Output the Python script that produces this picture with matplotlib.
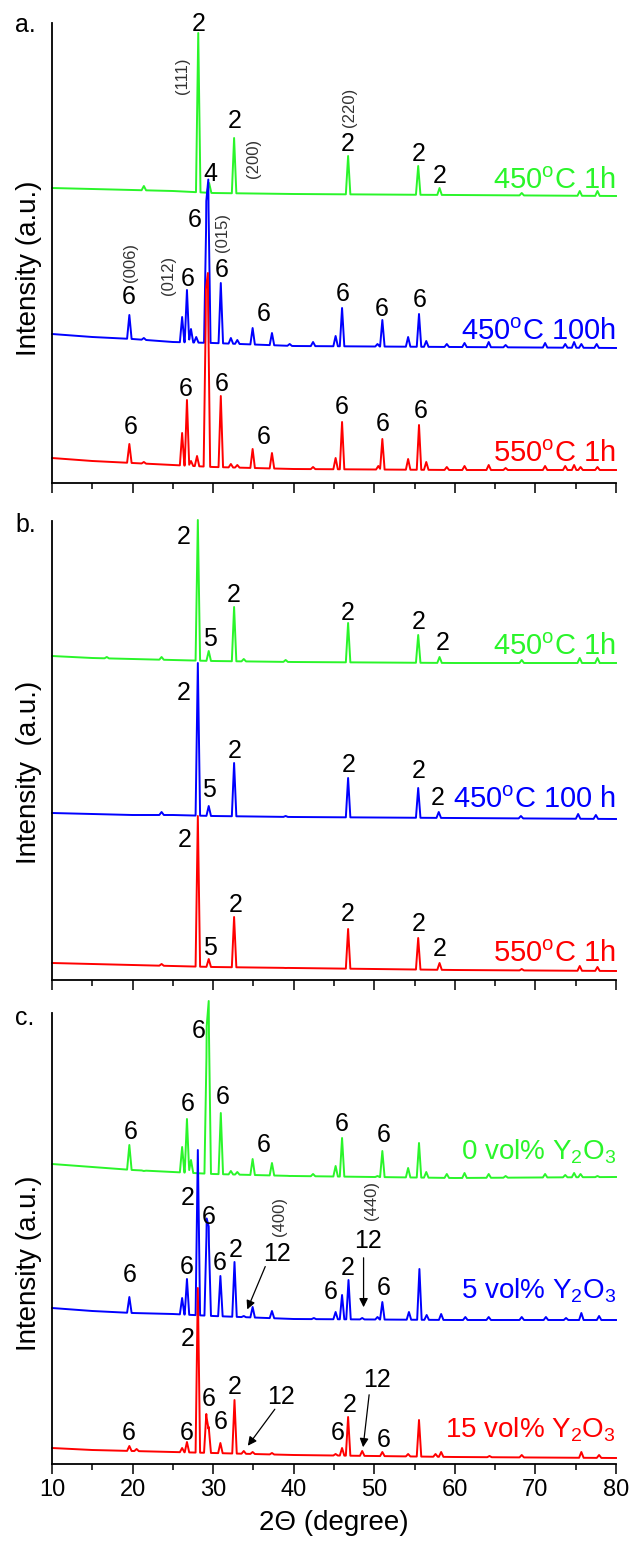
import numpy as np
import matplotlib.pyplot as plt

plt.rcParams['font.family'] = ['Liberation Sans', 'DejaVu Sans']
plt.rcParams['mathtext.fontset'] = 'custom'
plt.rcParams['mathtext.rm'] = 'Liberation Sans'

green = '#2af52a'
blue = '#0000ff'
red = '#ff0000'
hkl_col = '#333333'

# baseline knots (2theta) shared by every trace; intensities are in pixels above each panel bottom
base_x = [10, 15, 20, 25, 30, 40, 60, 80]

# ---- panel a ----
a_green_base = [295, 294, 293, 292, 290, 289, 288, 287]
a_green_pos = [21.4, 28.15, 29.5, 32.6, 46.75, 55.45, 58.1, 68.3, 75.5, 77.7]
a_green_h = [297, 450, 300, 345, 327, 317, 295, 290, 292, 292]

a_blue_base = [149, 146, 144, 141, 140, 137, 136, 135]
a_blue_pos = [19.6, 21.4, 26.15, 26.75, 27.25, 27.9, 29.15, 29.4, 30.95, 32.2, 33.0, 34.9, 37.3, 39.5,
              42.4, 45.2, 46.0, 50.4, 51.0, 54.2, 55.55, 56.45, 59.0, 61.2, 64.2, 66.3, 71.2, 73.7,
              74.8, 75.7, 77.6]
a_blue_h = [168, 145, 166, 193, 154, 146, 266, 290, 200, 145, 143, 155, 150, 139,
            141, 147, 175, 139, 163, 146, 169, 142, 139, 140, 141, 138, 140, 139,
            141, 139, 139]

a_red_base = [25, 22, 20, 18, 16, 14, 13, 13]
a_red_pos = [19.6, 21.4, 26.15, 26.75, 27.25, 28.0, 29.1, 29.35, 30.95, 32.2, 33.0, 34.9, 37.3,
             42.4, 45.2, 46.0, 50.5, 51.0, 54.2, 55.55, 56.45, 59.0, 61.2, 64.2, 66.3, 71.2,
             73.7, 74.8, 75.6, 77.7]
a_red_h = [39, 21, 50, 83, 22, 27, 175, 193, 87, 19, 18, 34, 30,
           16, 25, 61, 17, 44, 24, 58, 21, 16, 17, 18, 15, 17,
           17, 18, 16, 16]

a_names = ['450$^\\mathrm{o}$C 1h', '450$^\\mathrm{o}$C 100h', '550$^\\mathrm{o}$C 1h']
a_name_y = [294, 143, 21]
a_nums = [('2', 28.15, 459), ('4', 29.7, 309), ('2', 32.7, 362), ('2', 46.75, 339),
          ('2', 55.45, 329), ('2', 58.1, 307),
          ('6', 19.5, 186), ('6', 26.8, 204), ('6', 27.7, 263), ('6', 31.1, 213),
          ('6', 36.25, 169), ('6', 46.05, 189), ('6', 50.9, 174), ('6', 55.6, 183),
          ('6', 19.75, 56), ('6', 26.55, 94), ('6', 31.1, 99), ('6', 36.25, 46),
          ('6', 46.0, 76), ('6', 51.1, 59), ('6', 55.8, 72)]
a_hkl = [('(111)', 26.15, 407), ('(200)', 34.95, 325), ('(220)', 46.9, 376),
         ('(006)', 19.8, 220), ('(012)', 24.4, 208), ('(015)', 31.15, 250)]

# ---- panel b ----
b_green_base = [324, 322, 321, 320, 319, 318, 317, 317]
b_green_pos = [16.8, 23.6, 28.1, 29.45, 32.6, 33.8, 39.0, 46.75, 55.45, 58.1, 68.3, 75.5, 77.7]
b_green_h = [323, 323, 460, 329, 373, 321, 320, 357, 345, 323, 320, 322, 322]

b_blue_base = [167, 166, 165, 165, 164, 163, 162, 161]
b_blue_pos = [23.6, 28.1, 29.45, 32.6, 39.0, 46.75, 55.45, 58.0, 68.2, 75.3, 77.5]
b_blue_h = [168, 317, 174, 217, 164, 202, 192, 168, 164, 166, 165]

b_red_base = [17, 16, 15, 14, 13, 12, 10, 9]
b_red_pos = [23.6, 28.1, 29.45, 32.6, 39.0, 46.75, 55.45, 58.1, 68.3, 75.5, 77.7]
b_red_h = [16, 164, 21, 63, 12, 51, 42, 17, 11, 14, 13]

b_names = ['450$^\\mathrm{o}$C 1h', '450$^\\mathrm{o}$C 100 h', '550$^\\mathrm{o}$C 1h']
b_name_y = [325, 172, 18]
b_nums = [('2', 26.4, 443), ('5', 29.66, 341), ('2', 32.6, 385), ('2', 46.76, 367),
          ('2', 55.56, 358), ('2', 58.48, 337),
          ('2', 26.4, 287), ('5', 29.46, 190), ('2', 32.73, 229), ('2', 46.8, 215),
          ('2', 55.56, 209), ('2', 57.85, 182),
          ('2', 26.44, 140), ('5', 29.56, 32), ('2', 32.83, 75), ('2', 46.76, 66),
          ('2', 55.56, 56), ('2', 58.1, 31)]

# ---- panel c ----
c_green_base = [300, 297, 294, 292, 290, 288, 286, 287]
c_green_pos = [19.6, 21.4, 26.15, 26.75, 27.25, 29.2, 29.45, 30.95, 32.2, 33.0, 34.9, 37.3, 39.5,
               42.4, 45.2, 46.0, 50.4, 51.0, 54.2, 55.55, 56.45, 59.0, 61.2, 64.2, 66.3, 71.2,
               73.7, 74.8, 75.6, 77.7]
c_green_h = [319, 293, 317, 345, 304, 421, 449, 351, 293, 292, 305, 301, 288,
             290, 298, 326, 288, 313, 296, 321, 292, 290, 291, 290, 288, 290,
             289, 291, 290, 288]

c_blue_base = [156, 153, 151, 150, 148, 145, 144, 144]
c_blue_pos = [19.6, 26.15, 26.75, 28.1, 29.2, 29.45, 30.9, 32.65, 33.8, 34.9, 37.3, 42.5, 45.2,
              46.0, 46.8, 48.5, 50.4, 51.0, 54.3, 55.6, 56.5, 58.3, 61.3, 64.2, 68.3, 71.3,
              73.8, 75.7, 77.9]
c_blue_h = [167, 166, 185, 314, 237, 228, 188, 202, 148, 157, 153, 146, 152,
            169, 184, 146, 147, 162, 152, 195, 149, 150, 147, 147, 147, 147,
            146, 151, 148]

c_red_base = [16, 14, 13, 12, 11, 9, 7, 6]
c_red_pos = [19.6, 20.5, 26.15, 26.75, 28.1, 29.15, 29.45, 30.9, 32.65, 33.8, 34.9, 37.3, 45.2,
             46.0, 46.75, 48.5, 51.0, 54.2, 55.55, 57.6, 58.3, 64.3, 68.3, 75.7, 77.9]
c_red_h = [18, 15, 16, 22, 176, 50, 37, 21, 64, 13, 12, 11, 10,
           16, 47, 13, 12, 10, 44, 10, 12, 8, 9, 12, 9]

c_names = ['0 vol% Y$_\\mathrm{2}$O$_\\mathrm{3}$', '5 vol% Y$_\\mathrm{2}$O$_\\mathrm{3}$',
           '15 vol% Y$_\\mathrm{2}$O$_\\mathrm{3}$']
c_name_y = [305, 166, 27]
c_nums = [('6', 19.76, 332), ('6', 26.8, 360), ('6', 28.15, 433), ('6', 31.17, 367),
          ('6', 36.25, 319), ('6', 46.0, 340), ('6', 51.13, 329),
          ('6', 19.6, 189), ('6', 26.7, 197), ('2', 26.8, 266), ('6', 29.45, 247),
          ('6', 30.87, 201), ('2', 32.83, 214), ('12', 37.96, 210), ('6', 44.65, 172),
          ('2', 46.66, 196), ('12', 49.17, 223), ('6', 51.18, 176),
          ('6', 19.5, 31), ('6', 26.7, 31), ('2', 26.8, 125), ('6', 29.46, 65),
          ('6', 30.97, 42), ('2', 32.73, 77), ('12', 38.36, 67), ('6', 45.4, 31),
          ('2', 47.0, 59), ('12', 50.3, 84), ('6', 51.18, 24)]
c_hkl = [('(400)', 38.26, 247), ('(440)', 49.68, 264)]
# arrows: (start x, start y, end x, end y)
c_arrows = [(36.6, 200, 34.1, 152), (48.67, 209, 48.67, 154),
            (37.86, 57, 34.1, 16), (49.4, 72, 48.57, 14)]


def trace(bys, pos, hgt, hw=0.28):
    pos = np.array(pos, dtype=float)
    xs = np.unique(np.concatenate([base_x, pos, pos - hw, pos + hw]))
    ys = np.interp(xs, base_x, bys)
    for p, h in zip(pos, hgt):
        b = np.interp(p, base_x, bys)
        ys = ys + np.clip(1 - np.abs(xs - p) / hw, 0, None) * (h - b)
    return xs, ys


fig = plt.figure(figsize=(6.36, 15.5), dpi=100)
W, H = 636.0, 1550.0
boxes = [(483, 460), (980, 459), (1464, 451)]
axes = []
for bot, hh in boxes:
    ax = fig.add_axes([52 / W, (H - bot) / H, 564 / W, hh / H])
    ax.set_xlim(10, 80)
    ax.set_ylim(0, hh)
    ax.spines['top'].set_visible(False)
    ax.spines['right'].set_visible(False)
    ax.spines['left'].set_linewidth(1.3)
    ax.spines['bottom'].set_linewidth(1.3)
    ax.set_yticks([])
    ax.set_xticks(np.arange(10, 81, 10))
    ax.set_xticks(np.arange(15, 80, 10), minor=True)
    ax.tick_params(axis='x', which='major', direction='out', length=7.5, width=1.1, labelsize=17)
    ax.tick_params(axis='x', which='minor', direction='out', length=4, width=1.1)
    axes.append(ax)
ax_a, ax_b, ax_c = axes
ax_a.tick_params(labelbottom=False)
ax_b.tick_params(labelbottom=False)

panels = [
    (ax_a, [(a_green_base, a_green_pos, a_green_h), (a_blue_base, a_blue_pos, a_blue_h),
            (a_red_base, a_red_pos, a_red_h)], a_names, a_name_y, a_nums, a_hkl, 21),
    (ax_b, [(b_green_base, b_green_pos, b_green_h), (b_blue_base, b_blue_pos, b_blue_h),
            (b_red_base, b_red_pos, b_red_h)], b_names, b_name_y, b_nums, [], 21),
    (ax_c, [(c_green_base, c_green_pos, c_green_h), (c_blue_base, c_blue_pos, c_blue_h),
            (c_red_base, c_red_pos, c_red_h)], c_names, c_name_y, c_nums, c_hkl, 20),
]
cols = [green, blue, red]

for ax, series, names, name_y, nums, hkl, nsize in panels:
    for (bys, pos, hgt), col in zip(series, cols):
        x, y = trace(bys, pos, hgt)
        ax.plot(x, y, color=col, lw=1.4, clip_on=False)
    for name, ny, col in zip(names, name_y, cols):
        ax.text(80, ny, name, color=col, fontsize=nsize, ha='right', va='baseline')
    for t, x, y in nums:
        ax.text(x, y, t, fontsize=18, ha='center', va='center', clip_on=False)
    for t, x, y in hkl:
        ax.text(x, y, t, fontsize=12, color=hkl_col, rotation=90, ha='center', va='center')

for x0, y0, x1, y1 in c_arrows:
    ax_c.annotate('', xy=(x1, y1), xytext=(x0, y0),
                  arrowprops=dict(arrowstyle='-|>', color='k', lw=0.9, mutation_scale=13))

ax_c.set_xlabel('2\u0398 (degree)', fontsize=20, labelpad=6)

# panel letters and y labels
for letter, yb in [('a.', 32), ('b.', 532), ('c.', 1025)]:
    fig.text(15 / W, 1 - yb / H, letter, fontsize=18, ha='left', va='baseline')
for lab, yc in [('Intensity (a.u.)', 268), ('Intensity  (a.u.)', 772), ('Intensity (a.u.)', 1263)]:
    fig.text(29 / W, 1 - yc / H, lab, fontsize=20, rotation=90, ha='center', va='center')

fig.savefig('out.png', dpi=100)
